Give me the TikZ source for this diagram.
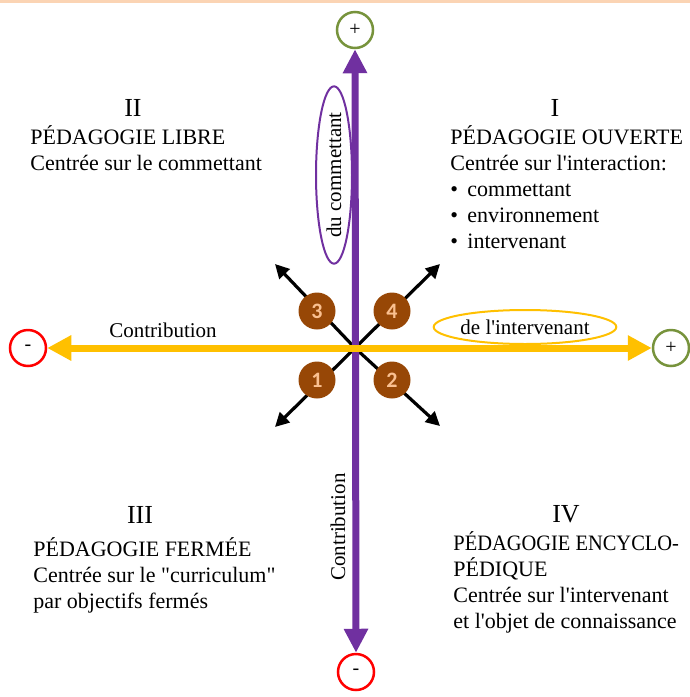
\documentclass[tikz,border=0pt]{standalone}
\usepackage{fontspec}
\setmainfont{Liberation Serif}
\newfontfamily\numfont{Carlito}
\newfontfamily\plainfont[Ligatures=ResetAll]{Liberation Serif}
\usetikzlibrary{positioning}
\usetikzlibrary{shapes,arrows.meta,calc}

\definecolor{violet1}{HTML}{7030A0}
\definecolor{orange1}{HTML}{FFC000}
\definecolor{vert1}{HTML}{77933C}
\definecolor{rouge1}{HTML}{FF0000}
\definecolor{brun1}{HTML}{974706}
\definecolor{peche1}{HTML}{FAC090}
\definecolor{bord1}{HTML}{FBD4B4}

\tikzset{
    pm/.style={draw, circle, line width=1.25pt, minimum size=18pt, inner sep=0pt, font=\fontsize{10}{12}\selectfont},
    num/.style={circle, fill=brun1, text=peche1, minimum size=18.5pt, inner sep=0pt, font=\numfont\bfseries\fontsize{11}{13}\selectfont},
    txt/.style={align=left, inner sep=0pt, font=\plainfont\fontsize{11}{12.9}\selectfont},
    rom/.style={inner sep=0pt, font=\fontsize{13}{15}\selectfont},
    lbl/.style={inner sep=0pt, font=\plainfont\fontsize{10.5}{12}\selectfont}
}

\begin{document}
\begin{tikzpicture}[x=0.5pt,y=-0.5pt]
    \useasboundingbox (0,0) rectangle (690,697);
    \fill[bord1] (0,0) rectangle (690,3);

    % the plus and minus circles
    \node[pm,draw=vert1] (pt) at (355,30) {+};
    \node[pm,draw=rouge1] (mb) at (356,672) {-};
    \node[pm,draw=rouge1] (ml) at (28,348) {-};
    \node[pm,draw=vert1] (pr) at (671,348) {+};

    % the four diagonal arrows
    \coordinate (o) at (355,348);
    \coordinate (nw) at (275,264);
    \coordinate (ne) at (440,264);
    \coordinate (sw) at (275,427);
    \coordinate (se) at (440,426);
    \foreach \c in {nw,ne,sw,se}
        \draw[line width=1.6pt,-{Triangle[length=7pt,width=7pt]}] (o) -- (\c);

    % the numbered circles
    \node[num] (n3) at (317,311) {3};
    \node[num] (n4) at (392,311) {4};
    \node[num] (n1) at (317,380) {1};
    \node[num] (n2) at (392,380) {2};

    % the axes
    \draw[violet1,line width=3.5pt,{Triangle[length=12pt,width=11.5pt]}-{Triangle[length=12pt,width=11.5pt]}] (pt.south) -- (mb.north);
    \draw[orange1,line width=3.5pt,{Triangle[length=12pt,width=12pt]}-{Triangle[length=12pt,width=12pt]}] (ml.east) -- (pr.west);

    % the axis labels
    \node[lbl] (ch) at (163,330) {Contribution};
    \node[lbl,draw=orange1,line width=1pt,ellipse,minimum width=87pt,minimum height=17pt] (di) at (525,327) {de l'intervenant};
    \node[lbl,draw=violet1,line width=1pt,ellipse,rotate=90,minimum width=85pt,minimum height=18pt] (dc) at (334,175) {du commettant};
    \node[lbl,rotate=90] (cv) at (338,527) {Contribution};

    % the four quadrants (anchored at the baseline of the last line)
    \node[rom,anchor=base] (q2) at (133,116) {II};
    \node[txt,anchor=base west] (t2) at (30,170) {PÉDAGOGIE LIBRE\\Centrée sur le commettant};

    \node[rom,anchor=base] (q1) at (555,116) {I};
    \node[txt,anchor=base west] (t1) at (450,248) {PÉDAGOGIE OUVERTE\\Centrée sur l'interaction:\\
        \makebox[8.5pt][l]{\textbullet}commettant\\
        \makebox[8.5pt][l]{\textbullet}environnement\\
        \makebox[8.5pt][l]{\textbullet}intervenant};

    \node[rom,anchor=base] (q3) at (140,523) {III};
    \node[txt,anchor=base west] (t3) at (33,608) {PÉDAGOGIE FERMÉE\\Centrée sur le "curriculum"\\par objectifs fermés};

    \node[rom,anchor=base] (q4) at (566,522) {IV};
    \node[txt,anchor=base west] (t4) at (453,628) {\scalebox{0.93}[1]{PÉDAGOGIE ENCYCLO-}\\PÉDIQUE\\Centrée sur l'intervenant\\et l'objet de connaissance};
\end{tikzpicture}
\end{document}
